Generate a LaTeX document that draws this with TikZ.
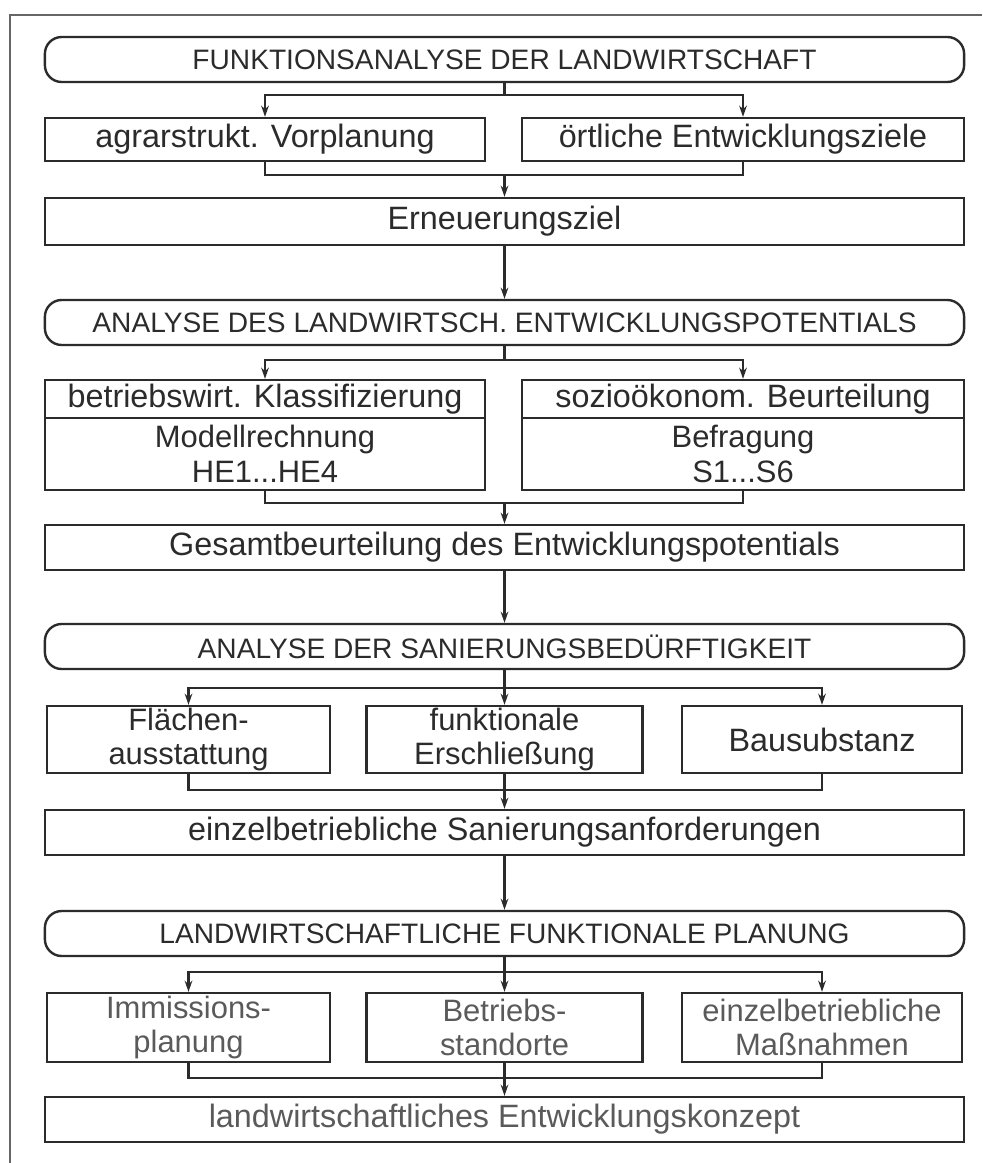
\documentclass[tikz,border=0pt]{standalone}
\usepackage{fontspec}
\setmainfont{Liberation Sans}
\usetikzlibrary{arrows.meta}
\definecolor{ink}{HTML}{2B2B2B}
\definecolor{faded}{HTML}{5A5A5A}
\tikzset{
  box/.style={draw=ink, line width=1.7pt, inner sep=0pt, align=center, text=ink,
    font=\fontsize{23}{25}\selectfont},
  twoline/.style={box, font=\fontsize{22}{24.5}\selectfont},
  headbox/.style={box, rounded corners=0.42cm, font=\fontsize{20}{22}\selectfont},
  link/.style={draw=ink, line width=1.7pt},
  flow/.style={link, -{Stealth[length=8pt,width=5.5pt]}},
}
\begin{document}
\begin{tikzpicture}[x=0.025cm, y=-0.025cm]
\useasboundingbox (0,0) rectangle (982,1163);

% frame
\draw[gray!80!black, line width=1.2pt] (10,1163) -- (10,15) -- (982,15);

% stage 1
\node[headbox, minimum width=22.975cm, minimum height=1.125cm] (fa) at (504.5,59.5)
  {FUNKTIONSANALYSE DER LANDWIRTSCHAFT};
\node[box, minimum width=11cm, minimum height=1.075cm] (vorpl) at (265,139.5)
  {agrarstrukt. Vorplanung};
\node[box, minimum width=11.05cm, minimum height=1.075cm] (ziele) at (743,139.5)
  {örtliche Entwicklungsziele};
\node[box, minimum width=22.975cm, minimum height=1.175cm] (ern) at (504.5,221.5)
  {Erneuerungsziel};

\coordinate (s1) at (504.5,95);
\coordinate (m1) at (504.5,175);
\draw[link] (fa.south) -- (s1);
\draw[flow] (s1) -| (vorpl.north);
\draw[flow] (s1) -| (ziele.north);
\draw[link] (vorpl.south) |- (m1);
\draw[link] (ziele.south) |- (m1);
\draw[flow] (m1) -- (ern.north);

% stage 2
\node[headbox, minimum width=22.975cm, minimum height=1.125cm] (aep) at (504.5,322.5)
  {ANALYSE DES LANDWIRTSCH. ENTWICKLUNGSPOTENTIALS};
\node[box, minimum width=11cm, minimum height=0.95cm] (klass) at (265,399)
  {betriebswirt. Klassifizierung};
\node[twoline, minimum width=11cm, minimum height=1.8cm] (modell) at (265,454)
  {Modellrechnung\\HE1...HE4};
\node[box, minimum width=11.05cm, minimum height=0.95cm] (sozio) at (743,399)
  {sozioökonom. Beurteilung};
\node[twoline, minimum width=11.05cm, minimum height=1.8cm] (befr) at (743,454)
  {Befragung\\S1...S6};
\node[box, minimum width=22.975cm, minimum height=1.125cm] (gesamt) at (504.5,547.5)
  {Gesamtbeurteilung des Entwicklungspotentials};

\draw[flow] (ern.south) -- (aep.north);
\coordinate (s2) at (504.5,360);
\coordinate (m2) at (504.5,503);
\draw[link] (aep.south) -- (s2);
\draw[flow] (s2) -| (klass.north);
\draw[flow] (s2) -| (sozio.north);
\draw[link] (modell.south) |- (m2);
\draw[link] (befr.south) |- (m2);
\draw[flow] (m2) -- (gesamt.north);

% stage 3
\node[headbox, minimum width=22.975cm, minimum height=1.125cm] (asb) at (504.5,646.5)
  {ANALYSE DER SANIERUNGSBEDÜRFTIGKEIT};
\node[twoline, minimum width=7.075cm, minimum height=1.675cm] (flaeche) at (188.5,739.5)
  {Flächen-\\ausstattung};
\node[twoline, minimum width=6.9cm, minimum height=1.675cm] (erschl) at (504.5,739.5)
  {funktionale\\Erschließung};
\node[box, minimum width=7cm, minimum height=1.675cm] (bau) at (822,739.5)
  {Bausubstanz};
\node[box, minimum width=22.975cm, minimum height=1.125cm] (sanier) at (504.5,832.5)
  {einzelbetriebliche Sanierungsanforderungen};

\draw[flow] (gesamt.south) -- (asb.north);
\coordinate (s3) at (504.5,688);
\coordinate (m3) at (504.5,790);
\draw[link] (asb.south) -- (s3);
\draw[flow] (s3) -| (flaeche.north);
\draw[flow] (s3) -- (erschl.north);
\draw[flow] (s3) -| (bau.north);
\draw[link] (flaeche.south) |- (m3);
\draw[link] (bau.south) |- (m3);
\draw[link] (erschl.south) -- (m3);
\draw[flow] (m3) -- (sanier.north);

% stage 4
\node[headbox, minimum width=22.975cm, minimum height=1.125cm] (lfp) at (504.5,933.5)
  {LANDWIRTSCHAFTLICHE FUNKTIONALE PLANUNG};
\node[twoline, text=faded, minimum width=7.075cm, minimum height=1.725cm] (immi) at (188.5,1027.5)
  {Immissions-\\planung};
\node[twoline, text=faded, minimum width=6.9cm, minimum height=1.725cm] (stand) at (504.5,1027.5)
  {Betriebs-\\standorte};
\node[twoline, text=faded, minimum width=7cm, minimum height=1.725cm] (mass) at (822,1027.5)
  {einzelbetriebliche\\Maßnahmen};
\node[box, text=faded, minimum width=22.975cm, minimum height=1.125cm] (konzept) at (504.5,1119.5)
  {landwirtschaftliches Entwicklungskonzept};

\draw[flow] (sanier.south) -- (lfp.north);
\coordinate (s4) at (504.5,972);
\coordinate (m4) at (504.5,1078);
\draw[link] (lfp.south) -- (s4);
\draw[flow] (s4) -| (immi.north);
\draw[flow] (s4) -- (stand.north);
\draw[flow] (s4) -| (mass.north);
\draw[link] (immi.south) |- (m4);
\draw[link] (mass.south) |- (m4);
\draw[link] (stand.south) -- (m4);
\draw[flow] (m4) -- (konzept.north);
\end{tikzpicture}
\end{document}
